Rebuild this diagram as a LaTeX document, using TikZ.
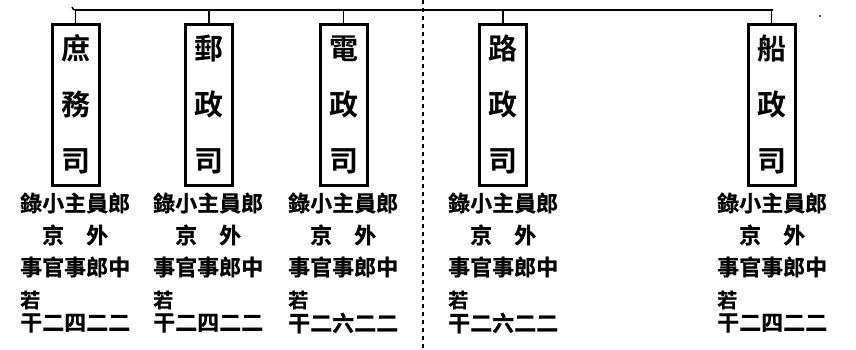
\documentclass[tikz,border=0pt]{standalone}
\usepackage{fontspec}
\newfontfamily\cjkm{Noto Sans CJK TC Bold}
\newfontfamily\cjkb{Noto Sans CJK TC Bold}[FakeBold=0.6]
\begin{document}
\begin{tikzpicture}[x=1pt,y=-1pt,
  office/.style={draw,line width=3pt,minimum width=47pt,minimum height=161pt,inner sep=0pt,
    align=center,font=\cjkm\fontsize{29}{56}\selectfont},
  rank/.style={anchor=west,inner sep=0pt,font=\cjkb\fontsize{22}{22}\selectfont},
  small/.style={anchor=west,inner sep=0pt,font=\cjkb\fontsize{20}{20}\selectfont},
  link/.style={line width=1.5pt},
  divider/.style={line width=1.1pt,dash pattern=on 4pt off 4pt}]
\useasboundingbox (0,0) rectangle (856,349);
\fill[white] (0,0) rectangle (856,349);
% horizontal bar
\coordinate (hl) at (75,10);
\coordinate (hr) at (773,10);
\draw[link] (hl) -- (hr);
\draw[link] (72,7) to[out=-60,in=180] (hl);
% divider
\coordinate (d1) at (423,0);
\coordinate (d2) at (423,349);
\draw[divider] (d1) -- (d2);
% boxes
\node[office] (b1) at (75.5,104.5) {庶\\務\\司};
\node[office] (b2) at (209,104.5) {郵\\政\\司};
\node[office] (b3) at (343.5,104.5) {電\\政\\司};
\node[office] (b4) at (503,104.5) {路\\政\\司};
\node[office] (b5) at (771.5,104.5) {船\\政\\司};
\foreach \b in {b1,b2,b3,b4,b5}{
  \draw[link] (\b.north) -- (\b.north |- hl);
}
% text columns
\foreach \n/\x/\num in {1/20/干二四二二,2/153/干二四二二,3/288/干二六二二,4/448/干二六二二,5/717/干二四二二}{
  \node[rank] (r1\n) at (\x,203) {錄小主員郎};
  \node[rank] (r2\n) at (\x,235) {　京　外};
  \node[rank] (r3\n) at (\x,267) {事官事郎中};
  \node[small] (r4\n) at (\x,300) {若};
  \node[rank] (r5\n) at (\x,323) {\num};
}
\fill (820,16) circle (1.2pt);
\end{tikzpicture}
\end{document}
